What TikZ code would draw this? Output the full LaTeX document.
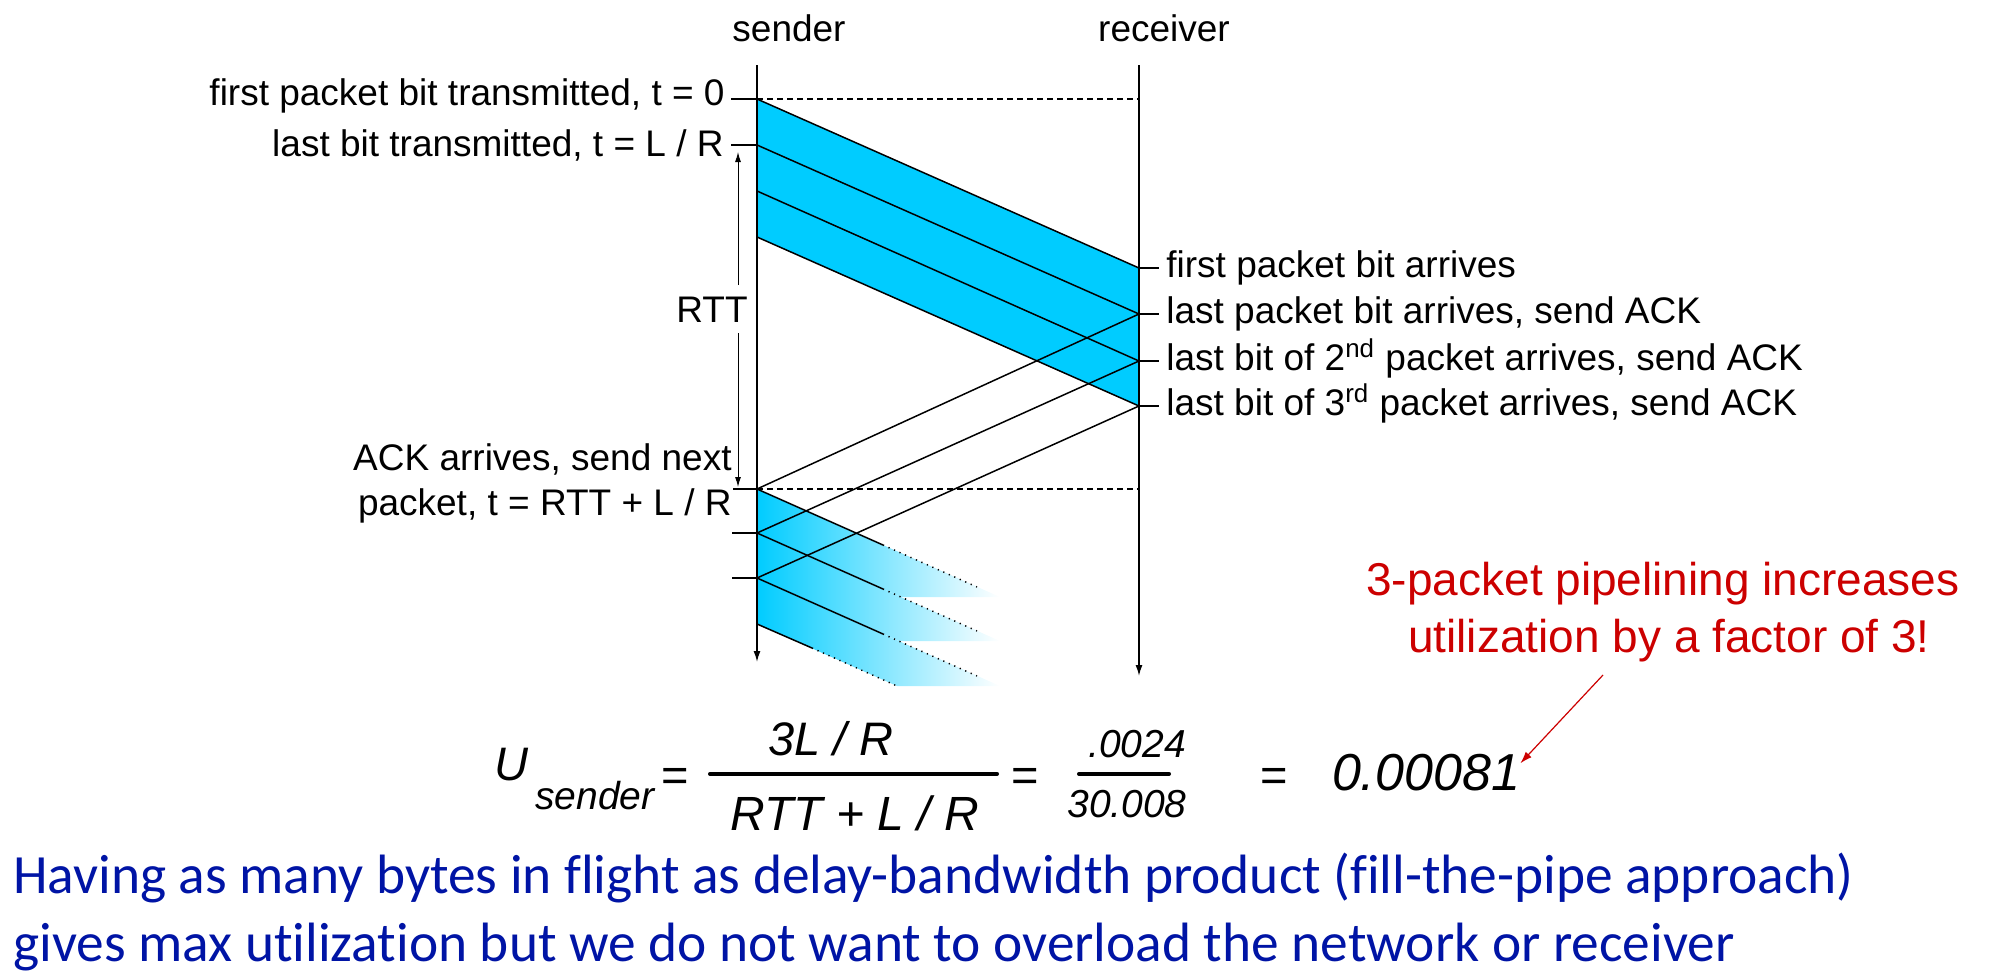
\documentclass[tikz,border=0pt]{standalone}
\usepackage{fontspec}
\setmainfont{Liberation Sans}
\newfontfamily\slidefont[Ligatures=NoCommon]{Carlito}
\usetikzlibrary{arrows.meta}
\definecolor{pktblue}{RGB}{0,204,255}
\definecolor{notered}{RGB}{204,0,0}
\definecolor{slideblue}{RGB}{0,20,165}

\begin{document}
\begin{tikzpicture}[x=0.5pt,y=0.5pt,yscale=-1,
  lbl/.style={font=\fontsize{18.5}{22}\selectfont,inner sep=0pt},
  eqn/.style={font=\fontsize{23.5}{28}\selectfont\itshape,inner sep=0pt},
  eqsmall/.style={font=\fontsize{19.5}{23}\selectfont\itshape,inner sep=0pt},
  eqsign/.style={font=\fontsize{23.5}{28}\selectfont,inner sep=0pt,anchor=base},
  timeline/.style={line width=0.75pt,-{Latex[length=5.5pt,width=3.5pt]}},
  rttarrow/.style={line width=0.5pt,-{Latex[length=5pt,width=3pt]}},
  pktline/.style={line width=0.75pt},
  fadeline/.style={line width=0.75pt,dash pattern=on 0.6pt off 2.4pt},
  tickline/.style={line width=0.6pt},
  guideline/.style={line width=0.6pt,dash pattern=on 3pt off 2pt},
  fracbar/.style={line width=2pt,line cap=round},
  notetext/.style={font=\fontsize{23}{28}\selectfont,text=notered,inner sep=0pt},
  notearrow/.style={notered,line width=0.6pt,-{Latex[length=6pt,width=4pt]}},
  slidetext/.style={font=\slidefont\fontsize{27.7}{33}\selectfont,text=slideblue,inner sep=0pt}
]
\useasboundingbox (0,0) rectangle (2009,980);

% time lines
\coordinate (sndtop) at (757,65);
\coordinate (sndbot) at (757,662);
\coordinate (rcvtop) at (1139,65);
\coordinate (rcvbot) at (1139,676);
% first round, sender side
\coordinate (s0) at (757,99);
\coordinate (s1) at (757,145);
\coordinate (s2) at (757,191);
\coordinate (s3) at (757,237);
% first round, receiver side
\coordinate (r0) at (1139,268);
\coordinate (r1) at (1139,314);
\coordinate (r2) at (1139,361);
\coordinate (r3) at (1139,406);
% acks back at sender
\coordinate (a1) at (757,489);
\coordinate (a2) at (757,533);
\coordinate (a3) at (757,578);
\coordinate (a4) at (757,624);

%Shape: Packets of first round
\fill[pktblue] (s0) -- (r0) -- (r3) -- (s3) -- cycle;

%Shape: Packets of second round, fading out
\shade[left color=pktblue,right color=white] (a1) -- (1000,597) -- (901,597) -- (a2) -- cycle;
\shade[left color=pktblue,right color=white] (a2) -- (1000,641) -- (899,641) -- (a3) -- cycle;
\shade[left color=pktblue,right color=white] (a3) -- (1000,686) -- (897,686) -- (a4) -- cycle;

%Straight Lines: first round
\draw[pktline] (s0) -- (r0);
\draw[pktline] (s1) -- (r1);
\draw[pktline] (s2) -- (r2);
\draw[pktline] (s3) -- (r3);

%Straight Lines: second round
\draw[pktline] (a1) -- (883,545);
\draw[fadeline] (883,545) -- (977,587);
\draw[pktline] (a2) -- (883,589);
\draw[fadeline] (883,589) -- (977,631);
\draw[pktline] (a3) -- (883,634);
\draw[fadeline] (883,634) -- (977,676);
\draw[pktline] (a4) -- (812,648);
\draw[fadeline] (812,648) -- (897,686);

%Straight Lines: acks
\draw[pktline] (r1) -- (a1);
\draw[pktline] (r2) -- (a2);
\draw[pktline] (r3) -- (a3);

%Straight Lines: dashed
\draw[guideline] (s0) -- (s0 -| rcvtop);
\draw[guideline] (a1) -- (a1 -| rcvtop);

%Straight Lines: ticks
\draw[tickline] (s0) -- ++(-26,0);
\draw[tickline] (s1) -- ++(-26,0);
\draw[tickline] (a1) -- ++(-24,0);
\draw[tickline] (a2) -- ++(-25,0);
\draw[tickline] (a3) -- ++(-25,0);
\draw[tickline] (r0) -- ++(20,0);
\draw[tickline] (r1) -- ++(20,0);
\draw[tickline] (r2) -- ++(20,0);
\draw[tickline] (r3) -- ++(20,0);

%Axis: sender and receiver
\draw[timeline] (sndtop) -- (sndbot);
\draw[timeline] (rcvtop) -- (rcvbot);

% Text Node
\draw (789,41) node (sndname) [lbl,anchor=base] {sender};
% Text Node
\draw (1164,41) node (rcvname) [lbl,anchor=base] {receiver};
% Text Node
\draw (725,105) node (sent0) [lbl,anchor=base east] {first packet bit transmitted, t = 0};
% Text Node
\draw (724,156) node (sent1) [lbl,anchor=base east] {last bit transmitted, t = L / R};
% Text Node
\draw (712,322) node (rtt) [lbl,anchor=base,inner ysep=5.5pt] {RTT};
% Text Node
\draw (732,470) node (ackarr) [lbl,anchor=base east] {ACK arrives, send next};
% Text Node
\draw (732,515) node (acknext) [lbl,anchor=base east] {packet, t = RTT + L / R};
% Text Node
\draw (1166,277) node (arr0) [lbl,anchor=base west] {first packet bit arrives};
% Text Node
\draw (1166,323) node (arr1) [lbl,anchor=base west] {last packet bit arrives, send ACK};
% Text Node
\draw (1166,370) node (arr2) [lbl,anchor=base west] {last bit of 2\textsuperscript{nd} packet arrives, send ACK};
% Text Node
\draw (1166,415) node (arr3) [lbl,anchor=base west] {last bit of 3\textsuperscript{rd} packet arrives, send ACK};

%Straight Lines: RTT
\coordinate (rtttop) at (738,152);
\coordinate (rttbot) at (738,487);
\draw[rttarrow] (rtt.north -| rtttop) -- (rtttop);
\draw[rttarrow] (rtt.south -| rttbot) -- (rttbot);

% Text Node: utilization
\draw (494,780) node (uu) [eqn,anchor=base west] {U};
\draw (535,809) node (usub) [eqsmall,anchor=base west] {sender};
\draw (675,791) node (eqa) [eqsign] {=};
\draw (831,755) node (num1) [eqn,anchor=base] {3L / R};
\draw (855,830) node (den1) [eqn,anchor=base,font=\fontsize{24}{28}\selectfont\itshape] {RTT + L / R};
\draw (1025,791) node (eqb) [eqsign] {=};
\draw (1137,757) node (num2) [eqsmall,anchor=base] {.0024};
\draw (1127,817) node (den2) [eqsmall,anchor=base] {30.008};
\draw (1274,791) node (eqc) [eqsign] {=};
\draw (1426,790) node (util) [eqn,anchor=base,font=\fontsize{26}{30}\selectfont\itshape] {0.00081};
\draw[fracbar] (num1.south -| 710,0) ++(0,18) -- ++(287,0);
\draw[fracbar] (num2.south -| 1079,0) ++(0,16) -- ++(90,0);

% Text Node: note
\draw (1663,595) node (note1) [notetext,anchor=base] {3-packet pipelining increases};
\draw (1669,652) node (note2) [notetext,anchor=base] {utilization by a factor of 3!};
\coordinate (notetail) at (1603,675);
\draw[notearrow] (notetail) -- ([yshift=5pt]util.north east);

% Text Node: bottom lines
\draw (13,893) node (pipe1) [slidetext,anchor=base west] {Having as many bytes in flight as delay-bandwidth product (fill-the-pipe approach)};
\draw (13,961) node (pipe2) [slidetext,anchor=base west] {gives max utilization but we do not want to overload the network or receiver};

\end{tikzpicture}
\end{document}
